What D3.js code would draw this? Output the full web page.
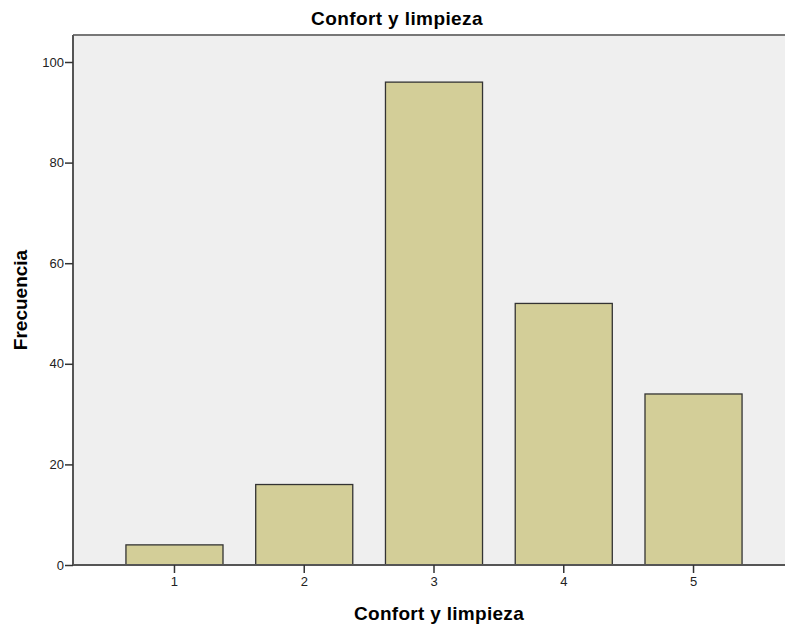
<!DOCTYPE html>
<html>
<head>
<meta charset="utf-8">
<script src="https://cdn.jsdelivr.net/npm/d3@7"></script>
<style>
  body { margin: 0; background: #fff; }
  text { font-family: "Liberation Sans", Arial, sans-serif; }
</style>
</head>
<body>
<div id="chart"></div>
<script>
// data
const categories = ["1", "2", "3", "4", "5"];
const counts = [4, 16, 96, 52, 34];
const yTicks = [0, 20, 40, 60, 80, 100];

const WIDTH = 785;
const HEIGHT = 626;
const MARGIN = { top: 35, right: -10, bottom: 61, left: 73 };
const innerW = WIDTH - MARGIN.left - MARGIN.right;
const innerH = HEIGHT - MARGIN.top - MARGIN.bottom;

const svg = d3.select("#chart")
  .append("svg")
  .attr("width", WIDTH)
  .attr("height", HEIGHT);

// title
svg.append("text")
  .attr("x", 397)
  .attr("y", 25)
  .attr("text-anchor", "middle")
  .attr("font-size", "19px")
  .attr("font-weight", "bold")
  .attr("letter-spacing", "0.4px")
  .text("Confort y limpieza");

const g = svg.append("g")
  .attr("transform", `translate(${MARGIN.left},${MARGIN.top})`);

// background
g.append("rect")
  .attr("x", 0).attr("y", 0)
  .attr("width", innerW).attr("height", innerH)
  .attr("fill", "#efefef");

// top border
g.append("line")
  .attr("x1", 0).attr("x2", innerW)
  .attr("y1", 0).attr("y2", 0)
  .attr("stroke", "#777")
  .attr("stroke-width", 2);

const x = d3.scaleBand()
  .domain(categories)
  .range([0, innerW])
  .paddingInner(0.252)
  .paddingOuter(0.408);

const y = d3.scaleLinear()
  .domain([0, 100])
  .range([innerH, innerH - 503]);

// bars
g.selectAll("rect.bar")
  .data(counts)
  .join("rect")
  .attr("class", "bar")
  .attr("x", (d, i) => x(categories[i]))
  .attr("y", (d) => y(d))
  .attr("width", x.bandwidth())
  .attr("height", (d) => y(0) - y(d))
  .attr("fill", "#d3ce98")
  .attr("stroke", "#333")
  .attr("stroke-width", 1.3);

// y axis
g.append("g")
  .call(d3.axisLeft(y).tickValues(yTicks).tickSize(8).tickPadding(1))
  .call((a) => a.select(".domain").attr("d", `M0,0V${innerH}`).attr("stroke", "#555").attr("stroke-width", 2))
  .call((a) => a.selectAll(".tick line").attr("stroke", "#333").attr("stroke-width", 1.5))
  .call((a) => a.selectAll(".tick text").attr("font-size", "13px").attr("fill", "#222").attr("font-family", "Liberation Sans, Arial, sans-serif"));

// x axis
g.append("g")
  .attr("transform", `translate(0,${innerH})`)
  .call(d3.axisBottom(x).tickSize(8).tickPadding(4))
  .call((a) => a.select(".domain").attr("d", `M0,0H${innerW}`).attr("stroke", "#555").attr("stroke-width", 2))
  .call((a) => a.selectAll(".tick line").attr("stroke", "#333").attr("stroke-width", 1.5))
  .call((a) => a.selectAll(".tick text").attr("font-size", "13px").attr("fill", "#222").attr("font-family", "Liberation Sans, Arial, sans-serif"));

// axis labels
svg.append("text")
  .attr("x", 439)
  .attr("y", 620)
  .attr("text-anchor", "middle")
  .attr("font-size", "19px")
  .attr("font-weight", "bold")
  .attr("letter-spacing", "0.3px")
  .text("Confort y limpieza");

svg.append("text")
  .attr("transform", `translate(27,${MARGIN.top + innerH / 2}) rotate(-90)`)
  .attr("text-anchor", "middle")
  .attr("font-size", "19px")
  .attr("font-weight", "bold")
  .text("Frecuencia");
</script>
</body>
</html>
